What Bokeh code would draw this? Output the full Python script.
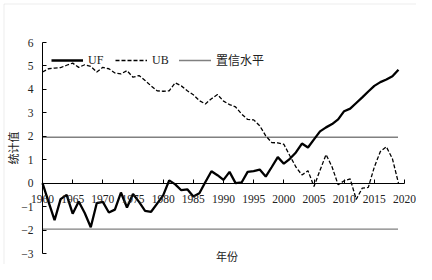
import math
from bokeh.plotting import figure
from bokeh.models import (Range1d, FixedTicker, Legend, LegendItem, Label, BoxAnnotation)
from bokeh.embed import file_html
from bokeh.resources import INLINE

years = list(range(1960, 2020))
uf = [0.00, -0.80, -1.58, -0.68, -0.50, -1.30, -0.78, -1.27, -1.88, -0.85,
      -0.80, -1.25, -1.13, -0.40, -1.04, -0.46, -0.80, -1.18, -1.22, -0.87,
      -0.52, 0.12, -0.05, -0.30, -0.26, -0.57, -0.43, 0.05, 0.51, 0.34,
      0.14, 0.48, 0.00, 0.03, 0.48, 0.51, 0.58, 0.28, 0.69, 1.11,
      0.83, 1.04, 1.31, 1.69, 1.52, 1.87, 2.21, 2.38, 2.52, 2.72,
      3.07, 3.18, 3.42, 3.66, 3.91, 4.15, 4.31, 4.42, 4.56, 4.84]
ub = [4.74, 4.88, 4.91, 4.93, 5.03, 5.12, 4.94, 5.05, 4.98, 4.74,
      4.94, 4.88, 4.70, 4.66, 4.80, 4.52, 4.59, 4.38, 4.15, 3.94,
      3.92, 3.94, 4.28, 4.15, 3.94, 3.77, 3.52, 3.38, 3.60, 3.78,
      3.50, 3.35, 3.25, 2.95, 2.72, 2.70, 2.45, 2.02, 1.73, 1.72,
      1.66, 1.17, 0.69, 0.35, 0.53, -0.14, 0.55, 1.22, 0.69, -0.07,
      0.10, 0.18, -0.69, -0.21, -0.18, 0.69, 1.35, 1.55, 1.04, 0.00]
conf_levels = [1.96, -1.96]
x_ticks = [1960, 1965, 1970, 1975, 1980, 1985, 1990, 1995, 2000, 2005, 2010, 2015, 2020]
y_ticks = [-3, -2, -1, 0, 1, 2, 3, 4, 5, 6]

SERIF = "Liberation Serif, Noto Sans CJK SC"
CJK = "Noto Sans CJK SC"
TXT = "#222222"

W, H = 416, 264
# pixel layout of the axes box inside the canvas
PX_L, PX_R, PX_T, PX_B = 42, 404, 42, 253
X0, X1, Y0, Y1 = 1960, 2020, -3, 6
kx = (PX_R - PX_L) / (X1 - X0)
ky = (PX_B - PX_T) / (Y1 - Y0)


def dx(px):
    return X0 + (px - PX_L) / kx


def dy(py):
    return Y1 - (py - PX_T) / ky


p = figure(width=W, height=H, output_backend="svg", toolbar_location=None,
           x_range=Range1d(dx(0), dx(W)), y_range=Range1d(dy(H), dy(0)),
           min_border_left=0, min_border_right=0, min_border_top=0,
           min_border_bottom=0)
p.outline_line_color = None
p.xgrid.grid_line_color = None
p.ygrid.grid_line_color = None
p.background_fill_color = "white"

r_uf = p.line(years, uf, line_color="black", line_width=2.3)
r_ub = p.line(years, ub, line_color="black", line_width=1.3, line_dash="4 2")
r_cf = p.segment(x0=[years[0]] * len(conf_levels), x1=[years[-1]] * len(conf_levels),
                 y0=conf_levels, y1=conf_levels, line_color="black",
                 line_width=1.4, line_dash="1 1")

xa = p.xaxis[0]
xa.fixed_location = 0
xa.bounds = (X0, X1)
xa.ticker = FixedTicker(ticks=x_ticks)
xa.major_tick_in = 4
xa.major_tick_out = 0
xa.minor_tick_line_color = None
xa.major_label_standoff = 12
xa.major_label_text_font = SERIF
xa.major_label_text_font_size = "11.5px"
xa.major_label_text_color = TXT
xa.axis_line_color = "black"
xa.major_tick_line_color = "black"

ya = p.yaxis[0]
ya.fixed_location = X0
ya.bounds = (Y0, Y1)
ya.ticker = FixedTicker(ticks=y_ticks)
ya.major_tick_in = 4
ya.major_tick_out = 0
ya.minor_tick_line_color = None
ya.major_label_standoff = 9
ya.major_label_text_font = SERIF
ya.major_label_text_font_size = "11.5px"
ya.major_label_text_color = TXT
ya.axis_line_color = "black"
ya.major_tick_line_color = "black"

p.add_layout(Label(x=dx(12), y=dy((PX_T + PX_B) / 2), text="统计值", angle=math.pi / 2,
                   text_align="center", text_baseline="middle", text_font=CJK,
                   text_font_size="11px", text_color=TXT))
p.add_layout(Label(x=dx((PX_L + 411) / 2), y=dy(255.5), text="年份",
                   text_align="center", text_baseline="middle", text_font=CJK,
                   text_font_size="11px", text_color=TXT))

legend = Legend(items=[LegendItem(label="UF", renderers=[r_uf]),
                       LegendItem(label="UB", renderers=[r_ub]),
                       LegendItem(label="置信水平", renderers=[r_cf])],
                location="top_left", orientation="horizontal",
                border_line_color=None, background_fill_alpha=0,
                margin=51, padding=0, glyph_width=32, glyph_height=14,
                label_height=14, label_standoff=5, spacing=7,
                label_text_font=SERIF, label_text_font_size="12px",
                label_text_color=TXT)
p.add_layout(legend)

p.add_layout(BoxAnnotation(left=dx(3.5), right=dx(428.5), top=dy(3.5), bottom=dy(276.5),
                           fill_alpha=0, line_color="#c0c0c0", line_width=1))

open("out.html", "w").write(file_html(p, INLINE))
